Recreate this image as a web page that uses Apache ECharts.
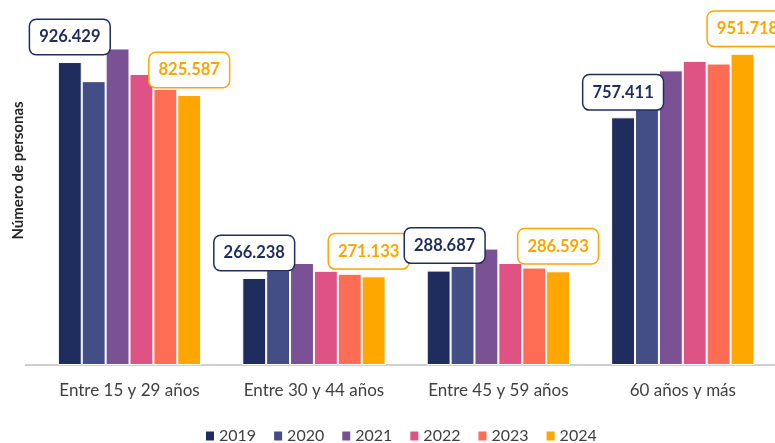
<!DOCTYPE html>
<html>
<head>
<meta charset="utf-8">
<script src="https://cdn.jsdelivr.net/npm/echarts@6/dist/echarts.min.js"></script>
<style>
  html, body { margin: 0; padding: 0; background: #fff; }
  #chart { width: 775px; height: 443px; }
</style>
</head>
<body>
<div id="chart"></div>
<script>
// grupos de edad
var categorias = ['Entre 15 y 29 años', 'Entre 30 y 44 años', 'Entre 45 y 59 años', '60 años y más'];
var anios = ['2019', '2020', '2021', '2022', '2023', '2024'];

// miles de personas por año
var v2019 = [926.429, 266.238, 288.687, 757.411];
var v2020 = [868, 290, 303, 790];
var v2021 = [968, 312, 356, 901];
var v2022 = [890, 288, 312, 930];
var v2023 = [844, 279, 298, 922];
var v2024 = [825.587, 271.133, 286.593, 951.718];

var valores = [v2019, v2020, v2021, v2022, v2023, v2024];
var colores = ['#1f2d5e', '#434e87', '#7b5195', '#de5383', '#ff6e54', '#ffa600'];

function etiqueta(color) {
  return {
    show: true,
    position: 'top',
    distance: 8,
    formatter: function (p) { return p.value.toFixed(3); },
    color: color,
    fontFamily: 'Lato',
    fontWeight: 'bold',
    fontSize: 16.5,
    lineHeight: 19,
    backgroundColor: '#fff',
    borderColor: color,
    borderWidth: 1.5,
    borderRadius: 6,
    padding: [7.5, 9]
  };
}

// etiquetas movidas a mano en el original: {indice: dx}
function desplazar(vals, mov) {
  return vals.map(function (v, j) {
    return mov[j] ? { value: v, label: { offset: [mov[j], 0] } } : v;
  });
}

var series = anios.map(function (a, i) {
  var s = {
    name: a,
    type: 'bar',
    data: valores[i],
    barGap: 0,
    barCategoryGap: '22.3%',
    itemStyle: { color: colores[i], borderColor: '#fff', borderWidth: 1 }
  };
  // las etiquetas de 2019 quedan por encima de las de 2024
  if (i === 0) {
    s.label = etiqueta('#1f2d5e');
    s.z = 4;
    s.data = desplazar(valores[i], { 2: 6 });
  }
  if (i === anios.length - 1) {
    s.label = etiqueta('#ffa500');
    s.data = desplazar(valores[i], { 1: -5, 3: 5 });
  }
  return s;
});

var chart = echarts.init(document.getElementById('chart'));
chart.setOption({
  animation: false,
  grid: { left: 37.3, width: 741.6, top: 38, bottom: 78 },
  legend: {
    data: anios,
    top: 423,
    left: 199,
    itemWidth: 10,
    itemHeight: 11,
    itemGap: 16,
    icon: 'rect',
    textStyle: { fontFamily: 'Lato', fontSize: 16, color: '#404040', padding: [0, 0, 0, -1] }
  },
  xAxis: {
    type: 'category',
    data: categorias,
    axisLine: { lineStyle: { color: '#bfbfbf', width: 1.5 } },
    axisTick: { show: false },
    axisLabel: { fontFamily: 'Lato', fontSize: 17, color: '#404040', margin: 17 }
  },
  yAxis: {
    type: 'value',
    min: 0,
    max: 1000,
    name: 'Número de personas',
    nameLocation: 'middle',
    nameGap: 12,
    nameTextStyle: {
      fontFamily: 'Lato',
      fontWeight: 'bold',
      fontSize: 15,
      color: '#262626',
      padding: [0, 0, 0, 62]
    },
    axisLine: { show: false },
    axisTick: { show: false },
    axisLabel: { show: false },
    splitLine: { show: false }
  },
  graphic: [{
    // tramo del eje que sobresale a la izquierda
    type: 'line',
    shape: { x1: 25, y1: 365, x2: 37, y2: 365 },
    style: { stroke: '#bfbfbf', lineWidth: 1.5 }
  }],
  series: series
});
</script>
</body>
</html>
